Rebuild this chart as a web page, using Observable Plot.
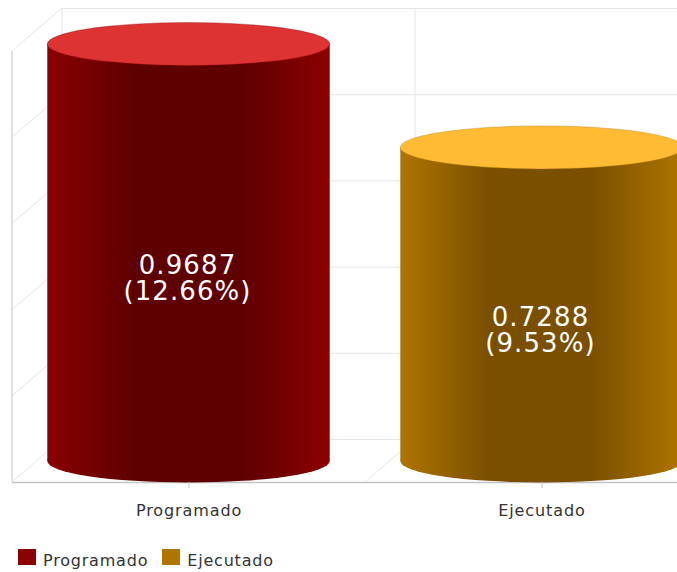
<!DOCTYPE html>
<html><head><meta charset="utf-8">
<script src="https://cdn.jsdelivr.net/npm/d3@7"></script>
<script src="https://cdn.jsdelivr.net/npm/@observablehq/plot@0.6"></script>
<style>
html,body{margin:0;padding:0;background:#fff}
#chart svg{display:block}
#legend{display:flex;align-items:center;height:32px;font:16px "DejaVu Sans",sans-serif;color:#333;letter-spacing:.8px;position:relative;top:4px}
#legend i{display:inline-block;width:18px;height:16px;margin-right:7px;position:relative;top:-3px}
#legend span{display:flex;align-items:center}
#chart g[aria-label="x-axis tick label"]{letter-spacing:.9px}
#chart g[aria-label="text"]{letter-spacing:1.1px}
</style></head>
<body>
<div id="chart"></div>
<div id="legend"></div>
<script>
const categories = ["Programado", "Ejecutado"];
const values = [0.9687, 0.7288];
const percents = ["12.66%", "9.53%"];
const gridTicks = [0, 0.2, 0.4, 0.6, 0.8, 1];
const edgeColors = ["#8b0000", "#b07500"];
const darkColors = ["#5e0000", "#7a5000"];
const topColors = ["#dd3333", "#ffbb33"];

const rows = categories.map((name, i) => ({name, value: values[i], i,
  label: values[i].toFixed(4) + "\n(" + percents[i] + ")"}));

const depthBack = 22, depthFront = 21, depthX = 50, ry = 21.5;
const gridColor = "#e6e6e6", axisColor = "#c4c4c4";

function walls(index, {x, y}) {
  const g = d3.create("svg:g").attr("fill", "none");
  const x0 = 12, step = x(categories[1]) - x(categories[0]);
  const seg = (x1, y1, x2, y2, c) => g.append("line").attr("x1", x1).attr("y1", y1).attr("x2", x2).attr("y2", y2).attr("stroke", c);
  for (const t of gridTicks) seg(x0, y(t) + depthFront, x0 + depthX, y(t) - depthBack, gridColor);
  seg(x0 + depthX, y(1) - depthBack, x0 + depthX, y(0) - depthBack, gridColor);
  seg(x0 + step, y(0) + depthFront, x0 + step + depthX, y(0) - depthBack, gridColor);
  seg(x0 + step + depthX, y(1) - depthBack, x0 + step + depthX, y(0) - depthBack, gridColor);
  seg(x0, y(1) + depthFront, x0, y(0) + depthFront, axisColor);
  return g.node();
}

function gradients() {
  const defs = d3.create("svg:defs");
  categories.forEach((_, i) => {
    const lg = defs.append("linearGradient").attr("id", "cyl" + i);
    [[0, edgeColors[i]], [0.31, darkColors[i]], [0.68, darkColors[i]], [1, edgeColors[i]]]
      .forEach(([o, c]) => lg.append("stop").attr("offset", o).attr("stop-color", c));
  });
  return defs.node();
}

function ellipses(kind) {
  return (index, {x, y}) => {
    const g = d3.create("svg:g");
    const bw = x.bandwidth();
    rows.forEach(r => {
      const e = g.append("ellipse")
        .attr("cx", x(r.name) + bw / 2)
        .attr("rx", bw / 2)
        .attr("ry", ry);
      if (kind === "base") e.attr("cy", y(0)).attr("fill", `url(#cyl${r.i})`);
      else e.attr("cy", y(r.value) + 0.5).attr("fill", topColors[r.i]).attr("stroke", edgeColors[r.i]).attr("stroke-opacity", 0.35);
    });
    return g.node();
  };
}

const chart = Plot.plot({
  width: 677, height: 540,
  marginLeft: 12, marginRight: 0, marginTop: 0, marginBottom: 58,
  style: {background: "#fff"},
  x: {domain: categories, range: [12, 718], paddingInner: 0.2, paddingOuter: 0.1, round: false, axis: null, label: null},
  y: {domain: [0, 1], range: [461, 30], axis: null, label: null},
  marks: [
    gradients,
    Plot.ruleY(gridTicks, {dy: -depthBack, insetLeft: depthX, stroke: gridColor, strokeOpacity: 1}),
    walls,
    Plot.ruleY([0], {dy: depthFront, stroke: axisColor, strokeWidth: 1.5}),
    ellipses("base"),
    ...rows.map(r => Plot.barY([r], {x: "name", y: "value", fill: `url(#cyl${r.i})`})),
    ellipses("top"),
    Plot.text(rows, {x: "name", y: d => d.value / 2, text: "label", dy: 26, dx: -1.5, fill: "#fff", fontSize: 26, lineHeight: 1, fontFamily: "DejaVu Sans"}),
    Plot.axisX({tickSize: 6, tickPadding: 16, fontSize: 16, fontFamily: "DejaVu Sans", stroke: axisColor, color: "#333", label: null, anchor: "bottom", textStyle: null, dx: 0}),
  ]
});
document.getElementById("chart").append(chart);

const leg = d3.select("#legend").style("padding-left", "18px");
categories.forEach((c, i) => {
  const s = leg.append("span").style("margin-right", "14px");
  s.append("i").style("background", edgeColors[i]);
  s.append("b").style("font-weight", "normal").text(c);
});
</script>
</body></html>
